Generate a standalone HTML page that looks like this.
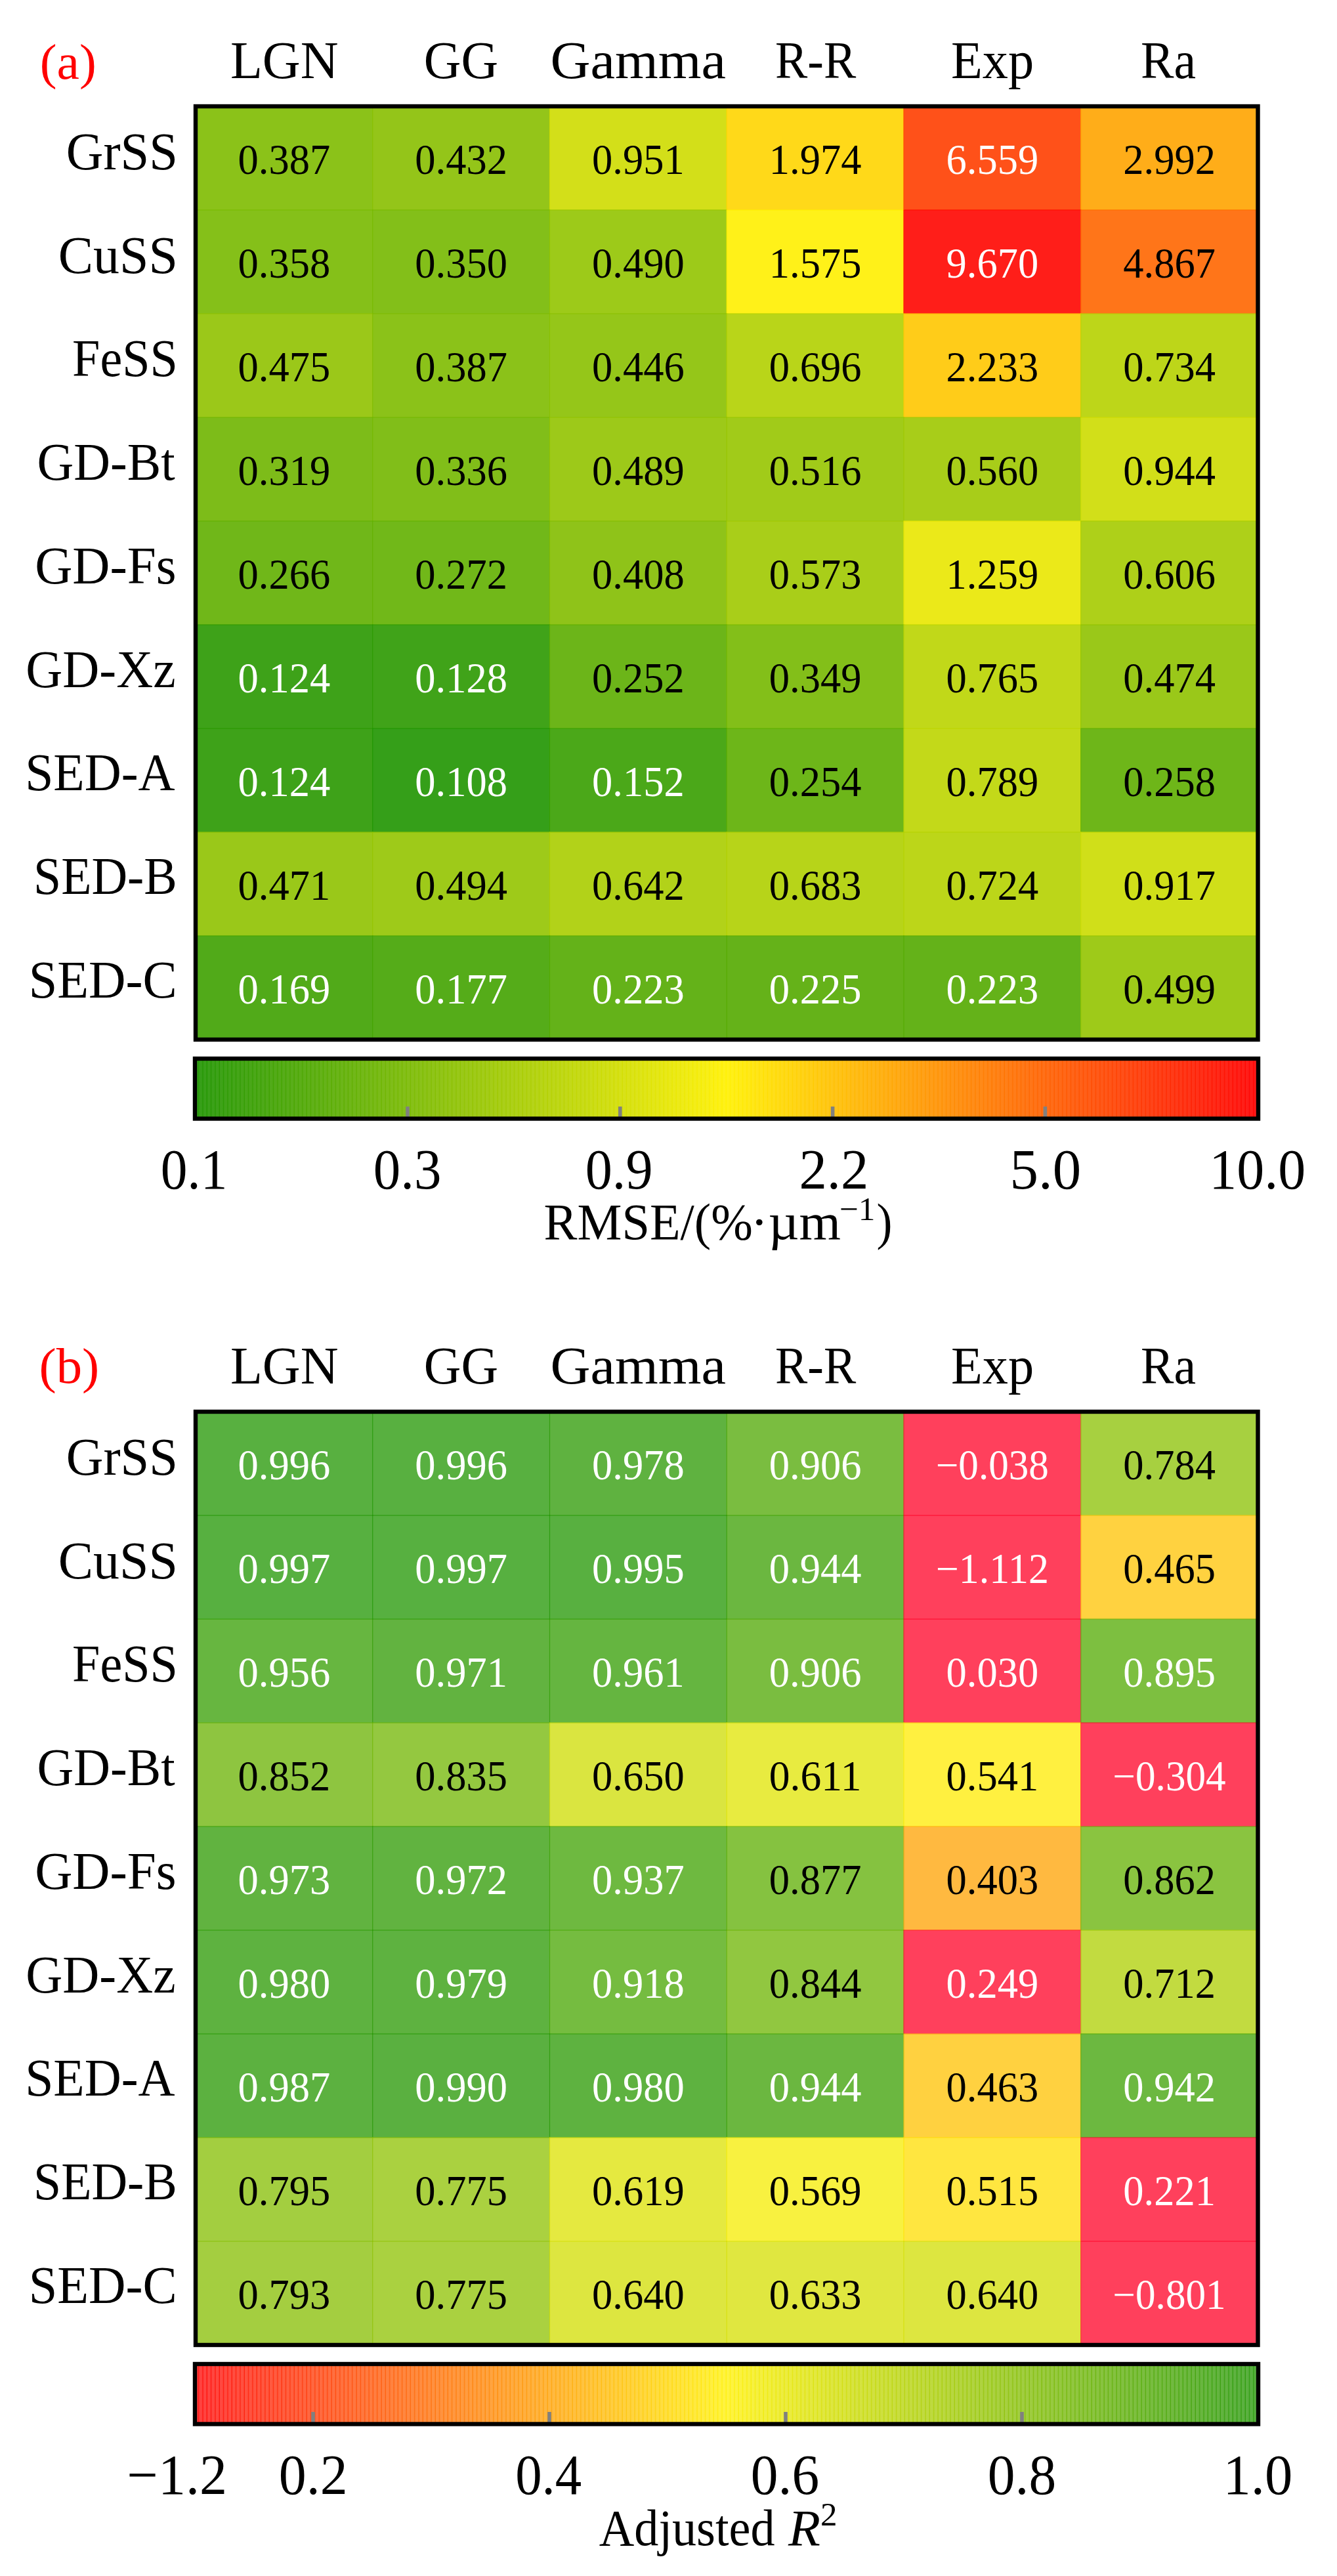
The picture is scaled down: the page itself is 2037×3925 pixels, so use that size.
<!DOCTYPE html>
<html lang="en"><head><meta charset="utf-8"><title>Heatmaps</title>
<style>html,body{margin:0;padding:0;background:#fff}svg{display:block}text{font-family:"Liberation Serif",serif}</style></head>
<body>
<svg width="2037" height="3925" viewBox="0 0 2037 3925">
<defs>
<linearGradient id="ga" x1="0" x2="1" y1="0" y2="0"><stop offset="0" stop-color="#1e9400"/><stop offset="0.5" stop-color="#fff000"/><stop offset="1" stop-color="#ff0000"/></linearGradient>
<linearGradient id="gb" x1="0" x2="1" y1="0" y2="0"><stop offset="0" stop-color="#ff0000"/><stop offset="0.5" stop-color="#fff000"/><stop offset="1" stop-color="#1e9400"/></linearGradient>
<pattern id="seampat" x="297" y="0" width="6.328" height="100" patternUnits="userSpaceOnUse"><rect x="5.0" y="0" width="1.4" height="100" fill="#fff"/></pattern>
<mask id="seam" maskUnits="userSpaceOnUse" x="0" y="0" width="2037" height="3925"><rect x="0" y="0" width="2037" height="3925" fill="url(#seampat)"/></mask>
</defs>
<rect width="2037" height="3925" fill="#fff"/>
<g id="panel-a">
<g fill-opacity="0.90">
<rect x="297.40" y="161.40" width="270.95" height="159.20" fill="#7ebb00"/>
<rect x="567.15" y="161.40" width="270.95" height="159.20" fill="#88bf00"/>
<rect x="836.90" y="161.40" width="270.95" height="159.20" fill="#cedc00"/>
<rect x="1106.65" y="161.40" width="270.95" height="159.20" fill="#ffd500"/>
<rect x="1376.40" y="161.40" width="270.95" height="159.20" fill="#ff3e00"/>
<rect x="1646.15" y="161.40" width="270.95" height="159.20" fill="#ffa400"/>
<rect x="297.40" y="319.40" width="270.95" height="159.20" fill="#78b900"/>
<rect x="567.15" y="319.40" width="270.95" height="159.20" fill="#76b800"/>
<rect x="836.90" y="319.40" width="270.95" height="159.20" fill="#92c400"/>
<rect x="1106.65" y="319.40" width="270.95" height="159.20" fill="#ffef00"/>
<rect x="1376.40" y="319.40" width="270.95" height="159.20" fill="#ff0600"/>
<rect x="1646.15" y="319.40" width="270.95" height="159.20" fill="#ff6600"/>
<rect x="297.40" y="477.40" width="270.95" height="159.20" fill="#90c200"/>
<rect x="567.15" y="477.40" width="270.95" height="159.20" fill="#7ebb00"/>
<rect x="836.90" y="477.40" width="270.95" height="159.20" fill="#8ac000"/>
<rect x="1106.65" y="477.40" width="270.95" height="159.20" fill="#b1d000"/>
<rect x="1376.40" y="477.40" width="270.95" height="159.20" fill="#ffc700"/>
<rect x="1646.15" y="477.40" width="270.95" height="159.20" fill="#b6d200"/>
<rect x="297.40" y="635.40" width="270.95" height="159.20" fill="#6fb500"/>
<rect x="567.15" y="635.40" width="270.95" height="159.20" fill="#73b700"/>
<rect x="836.90" y="635.40" width="270.95" height="159.20" fill="#92c300"/>
<rect x="1106.65" y="635.40" width="270.95" height="159.20" fill="#97c500"/>
<rect x="1376.40" y="635.40" width="270.95" height="159.20" fill="#9ec800"/>
<rect x="1646.15" y="635.40" width="270.95" height="159.20" fill="#cddc00"/>
<rect x="297.40" y="793.40" width="270.95" height="159.20" fill="#60af00"/>
<rect x="567.15" y="793.40" width="270.95" height="159.20" fill="#62b000"/>
<rect x="836.90" y="793.40" width="270.95" height="159.20" fill="#83bd00"/>
<rect x="1106.65" y="793.40" width="270.95" height="159.20" fill="#a0c900"/>
<rect x="1376.40" y="793.40" width="270.95" height="159.20" fill="#e9e700"/>
<rect x="1646.15" y="793.40" width="270.95" height="159.20" fill="#a5cb00"/>
<rect x="297.40" y="951.40" width="270.95" height="159.20" fill="#299800"/>
<rect x="567.15" y="951.40" width="270.95" height="159.20" fill="#2b9900"/>
<rect x="836.90" y="951.40" width="270.95" height="159.20" fill="#5cad00"/>
<rect x="1106.65" y="951.40" width="270.95" height="159.20" fill="#76b800"/>
<rect x="1376.40" y="951.40" width="270.95" height="159.20" fill="#bad400"/>
<rect x="1646.15" y="951.40" width="270.95" height="159.20" fill="#8fc200"/>
<rect x="297.40" y="1109.40" width="270.95" height="159.20" fill="#299800"/>
<rect x="567.15" y="1109.40" width="270.95" height="159.20" fill="#1f9500"/>
<rect x="836.90" y="1109.40" width="270.95" height="159.20" fill="#379e00"/>
<rect x="1106.65" y="1109.40" width="270.95" height="159.20" fill="#5dae00"/>
<rect x="1376.40" y="1109.40" width="270.95" height="159.20" fill="#bdd500"/>
<rect x="1646.15" y="1109.40" width="270.95" height="159.20" fill="#5eae00"/>
<rect x="297.40" y="1267.40" width="270.95" height="159.20" fill="#8fc200"/>
<rect x="567.15" y="1267.40" width="270.95" height="159.20" fill="#93c400"/>
<rect x="836.90" y="1267.40" width="270.95" height="159.20" fill="#aacd00"/>
<rect x="1106.65" y="1267.40" width="270.95" height="159.20" fill="#afcf00"/>
<rect x="1376.40" y="1267.40" width="270.95" height="159.20" fill="#b5d200"/>
<rect x="1646.15" y="1267.40" width="270.95" height="159.20" fill="#cbdb00"/>
<rect x="297.40" y="1425.40" width="270.95" height="159.20" fill="#3ea100"/>
<rect x="567.15" y="1425.40" width="270.95" height="159.20" fill="#42a300"/>
<rect x="836.90" y="1425.40" width="270.95" height="159.20" fill="#53aa00"/>
<rect x="1106.65" y="1425.40" width="270.95" height="159.20" fill="#54aa00"/>
<rect x="1376.40" y="1425.40" width="270.95" height="159.20" fill="#53aa00"/>
<rect x="1646.15" y="1425.40" width="270.95" height="159.20" fill="#94c400"/>
</g>
<rect x="298.00" y="162.00" width="1618.50" height="1422.00" fill="none" stroke="#000" stroke-width="6.4"/>
<text x="432.9" y="265.0" font-size="64.5" text-anchor="middle" textLength="140.6" lengthAdjust="spacingAndGlyphs" fill="#000">0.387</text>
<text x="702.6" y="265.0" font-size="64.5" text-anchor="middle" textLength="140.6" lengthAdjust="spacingAndGlyphs" fill="#000">0.432</text>
<text x="972.4" y="265.0" font-size="64.5" text-anchor="middle" textLength="140.6" lengthAdjust="spacingAndGlyphs" fill="#000">0.951</text>
<text x="1242.1" y="265.0" font-size="64.5" text-anchor="middle" textLength="140.6" lengthAdjust="spacingAndGlyphs" fill="#000">1.974</text>
<text x="1511.9" y="265.0" font-size="64.5" text-anchor="middle" textLength="140.6" lengthAdjust="spacingAndGlyphs" fill="#fff">6.559</text>
<text x="1781.6" y="265.0" font-size="64.5" text-anchor="middle" textLength="140.6" lengthAdjust="spacingAndGlyphs" fill="#000">2.992</text>
<text x="432.9" y="423.0" font-size="64.5" text-anchor="middle" textLength="140.6" lengthAdjust="spacingAndGlyphs" fill="#000">0.358</text>
<text x="702.6" y="423.0" font-size="64.5" text-anchor="middle" textLength="140.6" lengthAdjust="spacingAndGlyphs" fill="#000">0.350</text>
<text x="972.4" y="423.0" font-size="64.5" text-anchor="middle" textLength="140.6" lengthAdjust="spacingAndGlyphs" fill="#000">0.490</text>
<text x="1242.1" y="423.0" font-size="64.5" text-anchor="middle" textLength="140.6" lengthAdjust="spacingAndGlyphs" fill="#000">1.575</text>
<text x="1511.9" y="423.0" font-size="64.5" text-anchor="middle" textLength="140.6" lengthAdjust="spacingAndGlyphs" fill="#fff">9.670</text>
<text x="1781.6" y="423.0" font-size="64.5" text-anchor="middle" textLength="140.6" lengthAdjust="spacingAndGlyphs" fill="#000">4.867</text>
<text x="432.9" y="581.0" font-size="64.5" text-anchor="middle" textLength="140.6" lengthAdjust="spacingAndGlyphs" fill="#000">0.475</text>
<text x="702.6" y="581.0" font-size="64.5" text-anchor="middle" textLength="140.6" lengthAdjust="spacingAndGlyphs" fill="#000">0.387</text>
<text x="972.4" y="581.0" font-size="64.5" text-anchor="middle" textLength="140.6" lengthAdjust="spacingAndGlyphs" fill="#000">0.446</text>
<text x="1242.1" y="581.0" font-size="64.5" text-anchor="middle" textLength="140.6" lengthAdjust="spacingAndGlyphs" fill="#000">0.696</text>
<text x="1511.9" y="581.0" font-size="64.5" text-anchor="middle" textLength="140.6" lengthAdjust="spacingAndGlyphs" fill="#000">2.233</text>
<text x="1781.6" y="581.0" font-size="64.5" text-anchor="middle" textLength="140.6" lengthAdjust="spacingAndGlyphs" fill="#000">0.734</text>
<text x="432.9" y="739.0" font-size="64.5" text-anchor="middle" textLength="140.6" lengthAdjust="spacingAndGlyphs" fill="#000">0.319</text>
<text x="702.6" y="739.0" font-size="64.5" text-anchor="middle" textLength="140.6" lengthAdjust="spacingAndGlyphs" fill="#000">0.336</text>
<text x="972.4" y="739.0" font-size="64.5" text-anchor="middle" textLength="140.6" lengthAdjust="spacingAndGlyphs" fill="#000">0.489</text>
<text x="1242.1" y="739.0" font-size="64.5" text-anchor="middle" textLength="140.6" lengthAdjust="spacingAndGlyphs" fill="#000">0.516</text>
<text x="1511.9" y="739.0" font-size="64.5" text-anchor="middle" textLength="140.6" lengthAdjust="spacingAndGlyphs" fill="#000">0.560</text>
<text x="1781.6" y="739.0" font-size="64.5" text-anchor="middle" textLength="140.6" lengthAdjust="spacingAndGlyphs" fill="#000">0.944</text>
<text x="432.9" y="897.0" font-size="64.5" text-anchor="middle" textLength="140.6" lengthAdjust="spacingAndGlyphs" fill="#000">0.266</text>
<text x="702.6" y="897.0" font-size="64.5" text-anchor="middle" textLength="140.6" lengthAdjust="spacingAndGlyphs" fill="#000">0.272</text>
<text x="972.4" y="897.0" font-size="64.5" text-anchor="middle" textLength="140.6" lengthAdjust="spacingAndGlyphs" fill="#000">0.408</text>
<text x="1242.1" y="897.0" font-size="64.5" text-anchor="middle" textLength="140.6" lengthAdjust="spacingAndGlyphs" fill="#000">0.573</text>
<text x="1511.9" y="897.0" font-size="64.5" text-anchor="middle" textLength="140.6" lengthAdjust="spacingAndGlyphs" fill="#000">1.259</text>
<text x="1781.6" y="897.0" font-size="64.5" text-anchor="middle" textLength="140.6" lengthAdjust="spacingAndGlyphs" fill="#000">0.606</text>
<text x="432.9" y="1055.0" font-size="64.5" text-anchor="middle" textLength="140.6" lengthAdjust="spacingAndGlyphs" fill="#fff">0.124</text>
<text x="702.6" y="1055.0" font-size="64.5" text-anchor="middle" textLength="140.6" lengthAdjust="spacingAndGlyphs" fill="#fff">0.128</text>
<text x="972.4" y="1055.0" font-size="64.5" text-anchor="middle" textLength="140.6" lengthAdjust="spacingAndGlyphs" fill="#000">0.252</text>
<text x="1242.1" y="1055.0" font-size="64.5" text-anchor="middle" textLength="140.6" lengthAdjust="spacingAndGlyphs" fill="#000">0.349</text>
<text x="1511.9" y="1055.0" font-size="64.5" text-anchor="middle" textLength="140.6" lengthAdjust="spacingAndGlyphs" fill="#000">0.765</text>
<text x="1781.6" y="1055.0" font-size="64.5" text-anchor="middle" textLength="140.6" lengthAdjust="spacingAndGlyphs" fill="#000">0.474</text>
<text x="432.9" y="1213.0" font-size="64.5" text-anchor="middle" textLength="140.6" lengthAdjust="spacingAndGlyphs" fill="#fff">0.124</text>
<text x="702.6" y="1213.0" font-size="64.5" text-anchor="middle" textLength="140.6" lengthAdjust="spacingAndGlyphs" fill="#fff">0.108</text>
<text x="972.4" y="1213.0" font-size="64.5" text-anchor="middle" textLength="140.6" lengthAdjust="spacingAndGlyphs" fill="#fff">0.152</text>
<text x="1242.1" y="1213.0" font-size="64.5" text-anchor="middle" textLength="140.6" lengthAdjust="spacingAndGlyphs" fill="#000">0.254</text>
<text x="1511.9" y="1213.0" font-size="64.5" text-anchor="middle" textLength="140.6" lengthAdjust="spacingAndGlyphs" fill="#000">0.789</text>
<text x="1781.6" y="1213.0" font-size="64.5" text-anchor="middle" textLength="140.6" lengthAdjust="spacingAndGlyphs" fill="#000">0.258</text>
<text x="432.9" y="1371.0" font-size="64.5" text-anchor="middle" textLength="140.6" lengthAdjust="spacingAndGlyphs" fill="#000">0.471</text>
<text x="702.6" y="1371.0" font-size="64.5" text-anchor="middle" textLength="140.6" lengthAdjust="spacingAndGlyphs" fill="#000">0.494</text>
<text x="972.4" y="1371.0" font-size="64.5" text-anchor="middle" textLength="140.6" lengthAdjust="spacingAndGlyphs" fill="#000">0.642</text>
<text x="1242.1" y="1371.0" font-size="64.5" text-anchor="middle" textLength="140.6" lengthAdjust="spacingAndGlyphs" fill="#000">0.683</text>
<text x="1511.9" y="1371.0" font-size="64.5" text-anchor="middle" textLength="140.6" lengthAdjust="spacingAndGlyphs" fill="#000">0.724</text>
<text x="1781.6" y="1371.0" font-size="64.5" text-anchor="middle" textLength="140.6" lengthAdjust="spacingAndGlyphs" fill="#000">0.917</text>
<text x="432.9" y="1529.0" font-size="64.5" text-anchor="middle" textLength="140.6" lengthAdjust="spacingAndGlyphs" fill="#fff">0.169</text>
<text x="702.6" y="1529.0" font-size="64.5" text-anchor="middle" textLength="140.6" lengthAdjust="spacingAndGlyphs" fill="#fff">0.177</text>
<text x="972.4" y="1529.0" font-size="64.5" text-anchor="middle" textLength="140.6" lengthAdjust="spacingAndGlyphs" fill="#fff">0.223</text>
<text x="1242.1" y="1529.0" font-size="64.5" text-anchor="middle" textLength="140.6" lengthAdjust="spacingAndGlyphs" fill="#fff">0.225</text>
<text x="1511.9" y="1529.0" font-size="64.5" text-anchor="middle" textLength="140.6" lengthAdjust="spacingAndGlyphs" fill="#fff">0.223</text>
<text x="1781.6" y="1529.0" font-size="64.5" text-anchor="middle" textLength="140.6" lengthAdjust="spacingAndGlyphs" fill="#000">0.499</text>
<rect x="297.00" y="1613.00" width="1620.00" height="91.50" fill="url(#ga)" fill-opacity="0.90"/>
<rect x="297.00" y="1613.00" width="1620.00" height="91.50" fill="url(#ga)" fill-opacity="0.90" mask="url(#seam)"/>
<rect x="618.2" y="1686.0" width="5.6" height="16" fill="#808080"/>
<rect x="942.0" y="1686.0" width="5.6" height="16" fill="#808080"/>
<rect x="1265.8" y="1686.0" width="5.6" height="16" fill="#808080"/>
<rect x="1589.6" y="1686.0" width="5.6" height="16" fill="#808080"/>
<rect x="297.00" y="1613.00" width="1620.00" height="91.50" fill="none" stroke="#000" stroke-width="6.4"/>
</g>
<g id="panel-b">
<g fill-opacity="0.75">
<rect x="297.40" y="2150.40" width="270.95" height="159.20" fill="#209500"/>
<rect x="567.15" y="2150.40" width="270.95" height="159.20" fill="#209500"/>
<rect x="836.90" y="2150.40" width="270.95" height="159.20" fill="#299800"/>
<rect x="1106.65" y="2150.40" width="270.95" height="159.20" fill="#4da700"/>
<rect x="1376.40" y="2150.40" width="270.95" height="159.20" fill="#ff0026"/>
<rect x="1646.15" y="2150.40" width="270.95" height="159.20" fill="#8ac000"/>
<rect x="297.40" y="2308.40" width="270.95" height="159.20" fill="#1f9500"/>
<rect x="567.15" y="2308.40" width="270.95" height="159.20" fill="#1f9500"/>
<rect x="836.90" y="2308.40" width="270.95" height="159.20" fill="#209500"/>
<rect x="1106.65" y="2308.40" width="270.95" height="159.20" fill="#3a9f00"/>
<rect x="1376.40" y="2308.40" width="270.95" height="159.20" fill="#ff0026"/>
<rect x="1646.15" y="2308.40" width="270.95" height="159.20" fill="#ffc300"/>
<rect x="297.40" y="2466.40" width="270.95" height="159.20" fill="#349d00"/>
<rect x="567.15" y="2466.40" width="270.95" height="159.20" fill="#2d9a00"/>
<rect x="836.90" y="2466.40" width="270.95" height="159.20" fill="#329c00"/>
<rect x="1106.65" y="2466.40" width="270.95" height="159.20" fill="#4da700"/>
<rect x="1376.40" y="2466.40" width="270.95" height="159.20" fill="#ff0026"/>
<rect x="1646.15" y="2466.40" width="270.95" height="159.20" fill="#52a900"/>
<rect x="297.40" y="2624.40" width="270.95" height="159.20" fill="#68b200"/>
<rect x="567.15" y="2624.40" width="270.95" height="159.20" fill="#70b600"/>
<rect x="836.90" y="2624.40" width="270.95" height="159.20" fill="#cddc00"/>
<rect x="1106.65" y="2624.40" width="270.95" height="159.20" fill="#e0e400"/>
<rect x="1376.40" y="2624.40" width="270.95" height="159.20" fill="#ffeb00"/>
<rect x="1646.15" y="2624.40" width="270.95" height="159.20" fill="#ff0026"/>
<rect x="297.40" y="2782.40" width="270.95" height="159.20" fill="#2c9a00"/>
<rect x="567.15" y="2782.40" width="270.95" height="159.20" fill="#2c9a00"/>
<rect x="836.90" y="2782.40" width="270.95" height="159.20" fill="#3da100"/>
<rect x="1106.65" y="2782.40" width="270.95" height="159.20" fill="#5cad00"/>
<rect x="1376.40" y="2782.40" width="270.95" height="159.20" fill="#ffa200"/>
<rect x="1646.15" y="2782.40" width="270.95" height="159.20" fill="#63b000"/>
<rect x="297.40" y="2940.40" width="270.95" height="159.20" fill="#289800"/>
<rect x="567.15" y="2940.40" width="270.95" height="159.20" fill="#289800"/>
<rect x="836.90" y="2940.40" width="270.95" height="159.20" fill="#47a500"/>
<rect x="1106.65" y="2940.40" width="270.95" height="159.20" fill="#6cb400"/>
<rect x="1376.40" y="2940.40" width="270.95" height="159.20" fill="#ff0026"/>
<rect x="1646.15" y="2940.40" width="270.95" height="159.20" fill="#aecf00"/>
<rect x="297.40" y="3098.40" width="270.95" height="159.20" fill="#259700"/>
<rect x="567.15" y="3098.40" width="270.95" height="159.20" fill="#239600"/>
<rect x="836.90" y="3098.40" width="270.95" height="159.20" fill="#289800"/>
<rect x="1106.65" y="3098.40" width="270.95" height="159.20" fill="#3a9f00"/>
<rect x="1376.40" y="3098.40" width="270.95" height="159.20" fill="#ffc200"/>
<rect x="1646.15" y="3098.40" width="270.95" height="159.20" fill="#3ba000"/>
<rect x="297.40" y="3256.40" width="270.95" height="159.20" fill="#84be00"/>
<rect x="567.15" y="3256.40" width="270.95" height="159.20" fill="#8ec200"/>
<rect x="836.90" y="3256.40" width="270.95" height="159.20" fill="#dce200"/>
<rect x="1106.65" y="3256.40" width="270.95" height="159.20" fill="#f6ec00"/>
<rect x="1376.40" y="3256.40" width="270.95" height="159.20" fill="#ffdd00"/>
<rect x="1646.15" y="3256.40" width="270.95" height="159.20" fill="#ff0026"/>
<rect x="297.40" y="3414.40" width="270.95" height="159.20" fill="#86be00"/>
<rect x="567.15" y="3414.40" width="270.95" height="159.20" fill="#8ec200"/>
<rect x="836.90" y="3414.40" width="270.95" height="159.20" fill="#d2de00"/>
<rect x="1106.65" y="3414.40" width="270.95" height="159.20" fill="#d6df00"/>
<rect x="1376.40" y="3414.40" width="270.95" height="159.20" fill="#d2de00"/>
<rect x="1646.15" y="3414.40" width="270.95" height="159.20" fill="#ff0026"/>
</g>
<rect x="298.00" y="2151.00" width="1618.50" height="1422.00" fill="none" stroke="#000" stroke-width="6.4"/>
<text x="432.9" y="2254.0" font-size="64.5" text-anchor="middle" textLength="140.6" lengthAdjust="spacingAndGlyphs" fill="#fff">0.996</text>
<text x="702.6" y="2254.0" font-size="64.5" text-anchor="middle" textLength="140.6" lengthAdjust="spacingAndGlyphs" fill="#fff">0.996</text>
<text x="972.4" y="2254.0" font-size="64.5" text-anchor="middle" textLength="140.6" lengthAdjust="spacingAndGlyphs" fill="#fff">0.978</text>
<text x="1242.1" y="2254.0" font-size="64.5" text-anchor="middle" textLength="140.6" lengthAdjust="spacingAndGlyphs" fill="#fff">0.906</text>
<text x="1511.9" y="2254.0" font-size="64.5" text-anchor="middle" textLength="172.0" lengthAdjust="spacingAndGlyphs" fill="#fff">−0.038</text>
<text x="1781.6" y="2254.0" font-size="64.5" text-anchor="middle" textLength="140.6" lengthAdjust="spacingAndGlyphs" fill="#000">0.784</text>
<text x="432.9" y="2412.0" font-size="64.5" text-anchor="middle" textLength="140.6" lengthAdjust="spacingAndGlyphs" fill="#fff">0.997</text>
<text x="702.6" y="2412.0" font-size="64.5" text-anchor="middle" textLength="140.6" lengthAdjust="spacingAndGlyphs" fill="#fff">0.997</text>
<text x="972.4" y="2412.0" font-size="64.5" text-anchor="middle" textLength="140.6" lengthAdjust="spacingAndGlyphs" fill="#fff">0.995</text>
<text x="1242.1" y="2412.0" font-size="64.5" text-anchor="middle" textLength="140.6" lengthAdjust="spacingAndGlyphs" fill="#fff">0.944</text>
<text x="1511.9" y="2412.0" font-size="64.5" text-anchor="middle" textLength="172.0" lengthAdjust="spacingAndGlyphs" fill="#fff">−1.112</text>
<text x="1781.6" y="2412.0" font-size="64.5" text-anchor="middle" textLength="140.6" lengthAdjust="spacingAndGlyphs" fill="#000">0.465</text>
<text x="432.9" y="2570.0" font-size="64.5" text-anchor="middle" textLength="140.6" lengthAdjust="spacingAndGlyphs" fill="#fff">0.956</text>
<text x="702.6" y="2570.0" font-size="64.5" text-anchor="middle" textLength="140.6" lengthAdjust="spacingAndGlyphs" fill="#fff">0.971</text>
<text x="972.4" y="2570.0" font-size="64.5" text-anchor="middle" textLength="140.6" lengthAdjust="spacingAndGlyphs" fill="#fff">0.961</text>
<text x="1242.1" y="2570.0" font-size="64.5" text-anchor="middle" textLength="140.6" lengthAdjust="spacingAndGlyphs" fill="#fff">0.906</text>
<text x="1511.9" y="2570.0" font-size="64.5" text-anchor="middle" textLength="140.6" lengthAdjust="spacingAndGlyphs" fill="#fff">0.030</text>
<text x="1781.6" y="2570.0" font-size="64.5" text-anchor="middle" textLength="140.6" lengthAdjust="spacingAndGlyphs" fill="#fff">0.895</text>
<text x="432.9" y="2728.0" font-size="64.5" text-anchor="middle" textLength="140.6" lengthAdjust="spacingAndGlyphs" fill="#000">0.852</text>
<text x="702.6" y="2728.0" font-size="64.5" text-anchor="middle" textLength="140.6" lengthAdjust="spacingAndGlyphs" fill="#000">0.835</text>
<text x="972.4" y="2728.0" font-size="64.5" text-anchor="middle" textLength="140.6" lengthAdjust="spacingAndGlyphs" fill="#000">0.650</text>
<text x="1242.1" y="2728.0" font-size="64.5" text-anchor="middle" textLength="140.6" lengthAdjust="spacingAndGlyphs" fill="#000">0.611</text>
<text x="1511.9" y="2728.0" font-size="64.5" text-anchor="middle" textLength="140.6" lengthAdjust="spacingAndGlyphs" fill="#000">0.541</text>
<text x="1781.6" y="2728.0" font-size="64.5" text-anchor="middle" textLength="172.0" lengthAdjust="spacingAndGlyphs" fill="#fff">−0.304</text>
<text x="432.9" y="2886.0" font-size="64.5" text-anchor="middle" textLength="140.6" lengthAdjust="spacingAndGlyphs" fill="#fff">0.973</text>
<text x="702.6" y="2886.0" font-size="64.5" text-anchor="middle" textLength="140.6" lengthAdjust="spacingAndGlyphs" fill="#fff">0.972</text>
<text x="972.4" y="2886.0" font-size="64.5" text-anchor="middle" textLength="140.6" lengthAdjust="spacingAndGlyphs" fill="#fff">0.937</text>
<text x="1242.1" y="2886.0" font-size="64.5" text-anchor="middle" textLength="140.6" lengthAdjust="spacingAndGlyphs" fill="#000">0.877</text>
<text x="1511.9" y="2886.0" font-size="64.5" text-anchor="middle" textLength="140.6" lengthAdjust="spacingAndGlyphs" fill="#000">0.403</text>
<text x="1781.6" y="2886.0" font-size="64.5" text-anchor="middle" textLength="140.6" lengthAdjust="spacingAndGlyphs" fill="#000">0.862</text>
<text x="432.9" y="3044.0" font-size="64.5" text-anchor="middle" textLength="140.6" lengthAdjust="spacingAndGlyphs" fill="#fff">0.980</text>
<text x="702.6" y="3044.0" font-size="64.5" text-anchor="middle" textLength="140.6" lengthAdjust="spacingAndGlyphs" fill="#fff">0.979</text>
<text x="972.4" y="3044.0" font-size="64.5" text-anchor="middle" textLength="140.6" lengthAdjust="spacingAndGlyphs" fill="#fff">0.918</text>
<text x="1242.1" y="3044.0" font-size="64.5" text-anchor="middle" textLength="140.6" lengthAdjust="spacingAndGlyphs" fill="#000">0.844</text>
<text x="1511.9" y="3044.0" font-size="64.5" text-anchor="middle" textLength="140.6" lengthAdjust="spacingAndGlyphs" fill="#fff">0.249</text>
<text x="1781.6" y="3044.0" font-size="64.5" text-anchor="middle" textLength="140.6" lengthAdjust="spacingAndGlyphs" fill="#000">0.712</text>
<text x="432.9" y="3202.0" font-size="64.5" text-anchor="middle" textLength="140.6" lengthAdjust="spacingAndGlyphs" fill="#fff">0.987</text>
<text x="702.6" y="3202.0" font-size="64.5" text-anchor="middle" textLength="140.6" lengthAdjust="spacingAndGlyphs" fill="#fff">0.990</text>
<text x="972.4" y="3202.0" font-size="64.5" text-anchor="middle" textLength="140.6" lengthAdjust="spacingAndGlyphs" fill="#fff">0.980</text>
<text x="1242.1" y="3202.0" font-size="64.5" text-anchor="middle" textLength="140.6" lengthAdjust="spacingAndGlyphs" fill="#fff">0.944</text>
<text x="1511.9" y="3202.0" font-size="64.5" text-anchor="middle" textLength="140.6" lengthAdjust="spacingAndGlyphs" fill="#000">0.463</text>
<text x="1781.6" y="3202.0" font-size="64.5" text-anchor="middle" textLength="140.6" lengthAdjust="spacingAndGlyphs" fill="#fff">0.942</text>
<text x="432.9" y="3360.0" font-size="64.5" text-anchor="middle" textLength="140.6" lengthAdjust="spacingAndGlyphs" fill="#000">0.795</text>
<text x="702.6" y="3360.0" font-size="64.5" text-anchor="middle" textLength="140.6" lengthAdjust="spacingAndGlyphs" fill="#000">0.775</text>
<text x="972.4" y="3360.0" font-size="64.5" text-anchor="middle" textLength="140.6" lengthAdjust="spacingAndGlyphs" fill="#000">0.619</text>
<text x="1242.1" y="3360.0" font-size="64.5" text-anchor="middle" textLength="140.6" lengthAdjust="spacingAndGlyphs" fill="#000">0.569</text>
<text x="1511.9" y="3360.0" font-size="64.5" text-anchor="middle" textLength="140.6" lengthAdjust="spacingAndGlyphs" fill="#000">0.515</text>
<text x="1781.6" y="3360.0" font-size="64.5" text-anchor="middle" textLength="140.6" lengthAdjust="spacingAndGlyphs" fill="#fff">0.221</text>
<text x="432.9" y="3518.0" font-size="64.5" text-anchor="middle" textLength="140.6" lengthAdjust="spacingAndGlyphs" fill="#000">0.793</text>
<text x="702.6" y="3518.0" font-size="64.5" text-anchor="middle" textLength="140.6" lengthAdjust="spacingAndGlyphs" fill="#000">0.775</text>
<text x="972.4" y="3518.0" font-size="64.5" text-anchor="middle" textLength="140.6" lengthAdjust="spacingAndGlyphs" fill="#000">0.640</text>
<text x="1242.1" y="3518.0" font-size="64.5" text-anchor="middle" textLength="140.6" lengthAdjust="spacingAndGlyphs" fill="#000">0.633</text>
<text x="1511.9" y="3518.0" font-size="64.5" text-anchor="middle" textLength="140.6" lengthAdjust="spacingAndGlyphs" fill="#000">0.640</text>
<text x="1781.6" y="3518.0" font-size="64.5" text-anchor="middle" textLength="172.0" lengthAdjust="spacingAndGlyphs" fill="#fff">−0.801</text>
<rect x="297.00" y="3602.00" width="1620.00" height="91.50" fill="url(#gb)" fill-opacity="0.75"/>
<rect x="297.00" y="3602.00" width="1620.00" height="91.50" fill="url(#gb)" fill-opacity="0.75" mask="url(#seam)"/>
<rect x="474.2" y="3675.0" width="5.6" height="16" fill="#808080"/>
<rect x="834.2" y="3675.0" width="5.6" height="16" fill="#808080"/>
<rect x="1194.2" y="3675.0" width="5.6" height="16" fill="#808080"/>
<rect x="1554.2" y="3675.0" width="5.6" height="16" fill="#808080"/>
<rect x="297.00" y="3602.00" width="1620.00" height="91.50" fill="none" stroke="#000" stroke-width="6.4"/>
</g>
<text x="60.74" y="120.40" font-size="76.5" textLength="85.95" lengthAdjust="spacingAndGlyphs" fill="#f00">(a)</text>
<text x="59.49" y="2107.20" font-size="76.5" textLength="91.72" lengthAdjust="spacingAndGlyphs" fill="#f00">(b)</text>
<text x="350.95" y="118.80" font-size="80.5" textLength="164.61" lengthAdjust="spacingAndGlyphs" fill="#000">LGN</text>
<text x="645.85" y="118.80" font-size="80.5" textLength="113.24" lengthAdjust="spacingAndGlyphs" fill="#000">GG</text>
<text x="838.43" y="118.80" font-size="80.5" textLength="267.58" lengthAdjust="spacingAndGlyphs" fill="#000">Gamma</text>
<text x="1180.97" y="118.80" font-size="80.5" textLength="123.25" lengthAdjust="spacingAndGlyphs" fill="#000">R-R</text>
<text x="1448.91" y="118.80" font-size="80.5" textLength="126.22" lengthAdjust="spacingAndGlyphs" fill="#000">Exp</text>
<text x="1737.92" y="118.80" font-size="80.5" textLength="84.12" lengthAdjust="spacingAndGlyphs" fill="#000">Ra</text>
<text x="100.85" y="257.90" font-size="80.5" textLength="170.01" lengthAdjust="spacingAndGlyphs" fill="#000">GrSS</text>
<text x="88.86" y="415.65" font-size="80.5" textLength="181.98" lengthAdjust="spacingAndGlyphs" fill="#000">CuSS</text>
<text x="110.05" y="573.40" font-size="80.5" textLength="160.82" lengthAdjust="spacingAndGlyphs" fill="#000">FeSS</text>
<text x="56.41" y="731.15" font-size="80.5" textLength="210.23" lengthAdjust="spacingAndGlyphs" fill="#000">GD-Bt</text>
<text x="53.21" y="888.90" font-size="80.5" textLength="215.48" lengthAdjust="spacingAndGlyphs" fill="#000">GD-Fs</text>
<text x="39.23" y="1046.65" font-size="80.5" textLength="228.42" lengthAdjust="spacingAndGlyphs" fill="#000">GD-Xz</text>
<text x="38.17" y="1204.40" font-size="80.5" textLength="228.47" lengthAdjust="spacingAndGlyphs" fill="#000">SED-A</text>
<text x="51.09" y="1362.15" font-size="80.5" textLength="218.68" lengthAdjust="spacingAndGlyphs" fill="#000">SED-B</text>
<text x="43.79" y="1519.90" font-size="80.5" textLength="225.98" lengthAdjust="spacingAndGlyphs" fill="#000">SED-C</text>
<text x="350.95" y="2107.80" font-size="80.5" textLength="164.61" lengthAdjust="spacingAndGlyphs" fill="#000">LGN</text>
<text x="645.85" y="2107.80" font-size="80.5" textLength="113.24" lengthAdjust="spacingAndGlyphs" fill="#000">GG</text>
<text x="838.43" y="2107.80" font-size="80.5" textLength="267.58" lengthAdjust="spacingAndGlyphs" fill="#000">Gamma</text>
<text x="1180.97" y="2107.80" font-size="80.5" textLength="123.25" lengthAdjust="spacingAndGlyphs" fill="#000">R-R</text>
<text x="1448.91" y="2107.80" font-size="80.5" textLength="126.22" lengthAdjust="spacingAndGlyphs" fill="#000">Exp</text>
<text x="1737.92" y="2107.80" font-size="80.5" textLength="84.12" lengthAdjust="spacingAndGlyphs" fill="#000">Ra</text>
<text x="100.85" y="2246.90" font-size="80.5" textLength="170.01" lengthAdjust="spacingAndGlyphs" fill="#000">GrSS</text>
<text x="88.86" y="2404.65" font-size="80.5" textLength="181.98" lengthAdjust="spacingAndGlyphs" fill="#000">CuSS</text>
<text x="110.05" y="2562.40" font-size="80.5" textLength="160.82" lengthAdjust="spacingAndGlyphs" fill="#000">FeSS</text>
<text x="56.41" y="2720.15" font-size="80.5" textLength="210.23" lengthAdjust="spacingAndGlyphs" fill="#000">GD-Bt</text>
<text x="53.21" y="2877.90" font-size="80.5" textLength="215.48" lengthAdjust="spacingAndGlyphs" fill="#000">GD-Fs</text>
<text x="39.23" y="3035.65" font-size="80.5" textLength="228.42" lengthAdjust="spacingAndGlyphs" fill="#000">GD-Xz</text>
<text x="38.17" y="3193.40" font-size="80.5" textLength="228.47" lengthAdjust="spacingAndGlyphs" fill="#000">SED-A</text>
<text x="51.09" y="3351.15" font-size="80.5" textLength="218.68" lengthAdjust="spacingAndGlyphs" fill="#000">SED-B</text>
<text x="43.79" y="3508.90" font-size="80.5" textLength="225.98" lengthAdjust="spacingAndGlyphs" fill="#000">SED-C</text>
<text x="244.64" y="1810.60" font-size="86.0" textLength="101.85" lengthAdjust="spacingAndGlyphs" fill="#000">0.1</text>
<text x="568.78" y="1810.60" font-size="86.0" textLength="103.67" lengthAdjust="spacingAndGlyphs" fill="#000">0.3</text>
<text x="891.80" y="1810.60" font-size="86.0" textLength="102.66" lengthAdjust="spacingAndGlyphs" fill="#000">0.9</text>
<text x="1217.44" y="1810.60" font-size="86.0" textLength="105.91" lengthAdjust="spacingAndGlyphs" fill="#000">2.2</text>
<text x="1538.61" y="1810.60" font-size="86.0" textLength="108.63" lengthAdjust="spacingAndGlyphs" fill="#000">5.0</text>
<text x="1842.37" y="1810.60" font-size="86.0" textLength="146.91" lengthAdjust="spacingAndGlyphs" fill="#000">10.0</text>
<text x="193.59" y="3799.80" font-size="86.0" textLength="152.54" lengthAdjust="spacingAndGlyphs" fill="#000">−1.2</text>
<text x="424.81" y="3799.80" font-size="86.0" textLength="104.72" lengthAdjust="spacingAndGlyphs" fill="#000">0.2</text>
<text x="785.13" y="3799.80" font-size="86.0" textLength="100.94" lengthAdjust="spacingAndGlyphs" fill="#000">0.4</text>
<text x="1143.84" y="3799.80" font-size="86.0" textLength="104.27" lengthAdjust="spacingAndGlyphs" fill="#000">0.6</text>
<text x="1504.83" y="3799.80" font-size="86.0" textLength="104.34" lengthAdjust="spacingAndGlyphs" fill="#000">0.8</text>
<text x="1863.44" y="3799.80" font-size="86.0" textLength="105.80" lengthAdjust="spacingAndGlyphs" fill="#000">1.0</text>
<text x="828.57" y="1888.00" font-size="79.0" textLength="318.27" lengthAdjust="spacingAndGlyphs" fill="#000">RMSE/(%</text>
<text x="1143.32" y="1888.00" font-size="79.0" textLength="137.76" lengthAdjust="spacingAndGlyphs" fill="#000">·µm</text>
<text x="1278.79" y="1858.80" font-size="50.0" textLength="54.61" lengthAdjust="spacingAndGlyphs" fill="#000">−1</text>
<text x="1335.54" y="1888.00" font-size="79.0" textLength="23.92" lengthAdjust="spacingAndGlyphs" fill="#000">)</text>
<text x="912.79" y="3878.00" font-size="78.5" textLength="267.81" lengthAdjust="spacingAndGlyphs" fill="#000">Adjusted</text>
<text x="1201.00" y="3878.00" font-size="78.5" textLength="74.55" lengthAdjust="spacingAndGlyphs" fill="#000"><tspan font-style="italic">R</tspan><tspan dy="-30" font-size="50">2</tspan></text>
</svg>
</body></html>
